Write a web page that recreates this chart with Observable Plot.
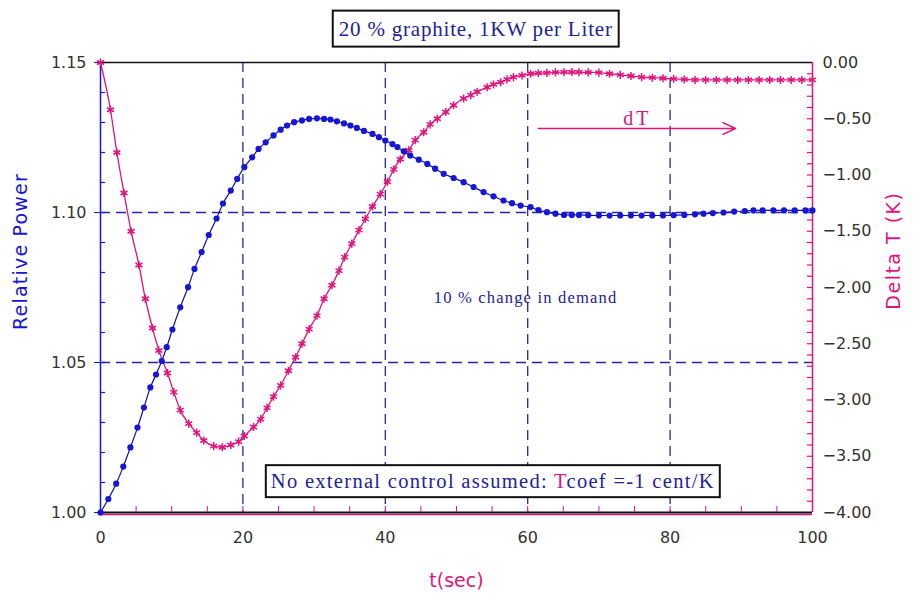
<!DOCTYPE html>
<html>
<head>
<meta charset="utf-8">
<script src="https://cdn.jsdelivr.net/npm/d3@7"></script>
<script src="https://cdn.jsdelivr.net/npm/@observablehq/plot@0.6"></script>
<style>
  html, body { margin: 0; padding: 0; background: #ffffff; }
  #chart { width: 913px; height: 600px; }
</style>
</head>
<body>
<div id="chart"></div>
<script>
// ---------------- data ----------------
const titleText = "20 % graphite, 1KW per Liter";
const noteText = "No external control assumed: Tcoef =-1 cent/K";
const demandText = "10 % change in demand";
const xLabel = "t(sec)";
const yLeftLabel = "Relative Power";
const yRightLabel = "Delta T (K)";

const xTicks = [0, 20, 40, 60, 80, 100];
const xMinorTicks = [5, 10, 15, 20, 25, 30, 35, 40, 45, 50, 55, 60, 65, 70, 75, 80, 85, 90, 95];
const xGrid = [20, 40, 60, 80];
const yLeftTicks = [1.00, 1.05, 1.10, 1.15];
const yLeftMinor = [1.01, 1.02, 1.03, 1.04, 1.05, 1.06, 1.07, 1.08, 1.09, 1.10, 1.11, 1.12, 1.13, 1.14];
const yGrid = [1.05, 1.10];
const yRightTicks = [0, -0.5, -1, -1.5, -2, -2.5, -3, -3.5, -4];
const yRightMinor = d3.range(1, 40).map(i => -i / 10);
const leftDomain = [1.00, 1.15];
const rightDomain = [-4, 0];

// Relative power (blue)
const tPower = [0, 1.1, 2.2, 3.2, 4.2, 5.2, 6.1, 7.0, 7.8, 8.6, 9.3, 10.1, 11.2, 12.3, 13.2, 14.2, 15.2, 16.3, 17.2, 18.3, 19.2, 20.2, 21.3, 22.2, 23.2, 24.3, 25.3, 26.2, 27.2, 28.3, 29.3, 30.4, 31.4, 32.3, 33.2, 34.2, 35.1, 36.0, 37.0, 38.2, 39.1, 40.0, 41.0, 41.7, 42.6, 43.5, 44.7, 45.9, 47.0, 48.2, 49.6, 51.0, 52.4, 53.8, 55.2, 56.6, 57.8, 59.0, 60.4, 61.5, 62.7, 63.9, 65.1, 66.2, 67.2, 68.5, 70.0, 71.5, 73.0, 74.5, 76.0, 77.5, 79.0, 80.5, 82.0, 83.5, 84.7, 86.0, 87.5, 89.0, 90.5, 91.7, 93.0, 94.5, 96.0, 97.5, 99.0, 100];
const power = [1.0000, 1.0045, 1.0096, 1.0153, 1.0217, 1.0283, 1.0350, 1.0417, 1.0460, 1.0505, 1.0551, 1.0610, 1.0684, 1.0751, 1.0812, 1.0868, 1.0925, 1.0980, 1.1030, 1.1073, 1.1112, 1.1151, 1.1184, 1.1212, 1.1234, 1.1257, 1.1276, 1.1290, 1.1301, 1.1307, 1.1312, 1.1314, 1.1312, 1.1310, 1.1304, 1.1297, 1.1290, 1.1282, 1.1272, 1.1262, 1.1251, 1.1240, 1.1228, 1.1218, 1.1204, 1.1190, 1.1176, 1.1162, 1.1146, 1.1129, 1.1115, 1.1101, 1.1085, 1.1068, 1.1054, 1.1040, 1.1031, 1.1023, 1.1018, 1.1008, 1.1001, 1.0996, 1.0992, 1.0992, 1.0992, 1.0991, 1.0990, 1.0990, 1.0990, 1.0990, 1.0990, 1.0990, 1.0990, 1.0991, 1.0992, 1.0994, 1.0996, 1.0998, 1.1000, 1.1003, 1.1005, 1.1007, 1.1007, 1.1007, 1.1007, 1.1007, 1.1007, 1.1007];

// Delta T (pink), right axis
const tDelta = [0, 1.4, 2.3, 3.3, 4.3, 5.4, 6.3, 7.3, 8.2, 9.4, 10.3, 11.2, 12.4, 13.5, 14.5, 15.9, 17.1, 18.3, 19.4, 20.2, 21.5, 22.5, 23.4, 24.3, 25.3, 26.4, 27.4, 28.3, 29.3, 30.4, 31.4, 32.5, 33.5, 34.3, 35.3, 36.3, 37.2, 38.2, 39.3, 40.3, 41.2, 42.1, 43.3, 44.2, 45.4, 46.3, 47.3, 48.5, 49.6, 51.0, 52.0, 52.9, 54.3, 55.2, 56.2, 57.1, 58.0, 59.2, 60.4, 61.5, 62.7, 63.9, 65.1, 66.2, 67.2, 68.5, 70.0, 71.5, 73.0, 74.5, 76.0, 77.5, 79.0, 80.5, 82.0, 83.5, 85.0, 86.5, 88.0, 89.5, 91.0, 92.5, 94.0, 95.5, 97.0, 98.5, 100];
const deltaT = [0.00, -0.42, -0.80, -1.16, -1.50, -1.80, -2.10, -2.36, -2.56, -2.76, -2.93, -3.09, -3.21, -3.29, -3.36, -3.41, -3.42, -3.40, -3.37, -3.32, -3.24, -3.17, -3.07, -2.97, -2.87, -2.74, -2.62, -2.50, -2.37, -2.25, -2.10, -1.98, -1.85, -1.73, -1.61, -1.49, -1.39, -1.28, -1.17, -1.06, -0.95, -0.86, -0.78, -0.69, -0.62, -0.55, -0.50, -0.44, -0.38, -0.32, -0.29, -0.26, -0.22, -0.195, -0.175, -0.15, -0.13, -0.115, -0.10, -0.095, -0.092, -0.088, -0.086, -0.085, -0.086, -0.088, -0.090, -0.10, -0.11, -0.12, -0.13, -0.135, -0.14, -0.145, -0.15, -0.155, -0.155, -0.155, -0.155, -0.155, -0.155, -0.155, -0.155, -0.155, -0.155, -0.155, -0.155];

// annotation anchors (data coordinates)
const titleAt = {t: 52.7, y: 1.1612};
const noteAt = {t: 55.1, y: 1.0103};
const demandAt = {t: 59.7, y: 1.0715};
const dTLabelAt = {t: 75.4, y: 1.1313};
const arrowSpec = [{t1: 61.5, t2: 89.2, y: 1.1280}];

// ---------------- styling ----------------
const BLUE = "#1616d6";
const NAVY = "#22229a";
const PINK = "#e0147c";
const GRID = "#26269c";
const TICKTXT = "#333333";

// map Delta T onto left scale
const k = (leftDomain[1] - leftDomain[0]) / (rightDomain[1] - rightDomain[0]);
const toLeft = v => leftDomain[1] + (v - rightDomain[1]) * k;
const fromLeft = y => (y - leftDomain[1]) / k + rightDomain[1];

const powerData = tPower.map((t, i) => ({t, v: power[i]}));
const deltaData = tDelta.map((t, i) => ({t, v: toLeft(deltaT[i])}));

const W = 913, H = 600;
const mL = 100, mR = 101, mT = 62, mB = 88;
const pxY = (leftDomain[1] - leftDomain[0]) / (H - mT - mB);
const pxX = 100 / (W - mL - mR);

const serif = "Liberation Serif, Times New Roman, serif";
const sans = "DejaVu Sans, sans-serif";

const chart = Plot.plot({
  width: W, height: H,
  marginLeft: mL, marginRight: mR, marginTop: mT, marginBottom: mB,
  style: {background: "#ffffff", fontFamily: "Liberation Sans, sans-serif", overflow: "visible"},
  x: {domain: [0, 100]},
  y: {domain: leftDomain},
  marks: [
    // dashed grid
    Plot.ruleX(xGrid, {stroke: GRID, strokeWidth: 1.3, strokeDasharray: "10,6"}),
    Plot.ruleY(yGrid, {stroke: GRID, strokeWidth: 1.3, strokeDasharray: "10,6"}),
    // frame lines
    Plot.ruleY([leftDomain[1]], {stroke: "#111", strokeWidth: 1.5}),
    Plot.ruleY([leftDomain[0]], {stroke: PINK, strokeWidth: 1.5, dy: 2}),
    Plot.ruleY([leftDomain[0]], {stroke: "#111", strokeWidth: 2}),
    Plot.ruleX([0], {stroke: BLUE, strokeWidth: 1.5}),
    Plot.ruleX([100], {stroke: PINK, strokeWidth: 1.5}),
    // minor ticks (inward)
    Plot.ruleX(xMinorTicks, {y1: leftDomain[0], y2: leftDomain[0] + 6 * pxY, stroke: PINK, strokeWidth: 1}),
    Plot.ruleY(yLeftMinor, {x1: 0, x2: 5 * pxX, stroke: BLUE, strokeWidth: 1.2}),
    Plot.ruleY(yRightMinor.map(toLeft), {x1: 100 - 5 * pxX, x2: 100, stroke: PINK, strokeWidth: 1.2}),
    // axes
    Plot.axisX({ticks: xTicks, tickSize: 0, tickPadding: 19, label: null, fontSize: 16, fill: TICKTXT, fontFamily: sans}),
    Plot.axisY({ticks: yLeftTicks, tickFormat: d3.format(".2f"), tickSize: 6, tickPadding: 8, stroke: BLUE, label: null, fontSize: 16, fill: TICKTXT, fontFamily: sans}),
    Plot.axisY({anchor: "right", ticks: yRightTicks.map(toLeft), tickFormat: d => d3.format(".2f")(Math.round(fromLeft(d) * 100) / 100), tickSize: 0, tickPadding: 10, label: null, fontSize: 16, fill: TICKTXT, fontFamily: sans}),
    // axis titles
    Plot.text([yLeftLabel], {x: 0, y: 1.087, dx: -80, rotate: -90, fill: BLUE, fontSize: 19, fontFamily: sans, className: "ls-leftlabel"}),
    Plot.text([yRightLabel], {x: 100, y: 1.0873, dx: 81, rotate: -90, fill: PINK, fontSize: 19, fontFamily: sans, className: "ls-rightlabel"}),
    Plot.text([xLabel], {x: 50, y: leftDomain[0], dy: 68, fill: PINK, fontSize: 19, fontFamily: sans}),
    // series
    Plot.line(deltaData, {x: "t", y: "v", stroke: PINK, strokeWidth: 1.3, curve: "monotone-x"}),
    Plot.dot(deltaData, {x: "t", y: "v", symbol: "asterisk", r: 3.8, stroke: PINK, strokeWidth: 1.5}),
    Plot.line(powerData, {x: "t", y: "v", stroke: "#1010a8", strokeWidth: 1.2, curve: "monotone-x"}),
    Plot.dot(powerData, {x: "t", y: "v", symbol: "circle", r: 3.1, fill: BLUE, stroke: null}),
    // annotations
    Plot.arrow(arrowSpec, {x1: "t1", x2: "t2", y1: "y", y2: "y", stroke: PINK, strokeWidth: 1.5, headLength: 14, headAngle: 50}),
    Plot.text(["dT"], {x: dTLabelAt.t, y: dTLabelAt.y, fill: PINK, fontSize: 20, fontFamily: serif, className: "ls-dt"}),
    Plot.text([demandText], {x: demandAt.t, y: demandAt.y, fill: NAVY, fontSize: 16.5, fontFamily: serif, className: "ls-demand"}),
    Plot.text([titleText], {x: titleAt.t, y: titleAt.y, fill: NAVY, fontSize: 21, fontFamily: serif, className: "boxed-title"}),
    Plot.text([noteText], {x: noteAt.t, y: noteAt.y, fill: NAVY, fontSize: 20.5, fontFamily: serif, className: "boxed-note"})
  ]
});
document.getElementById("chart").append(chart);

// letter spacing (widen text like the reference's stretched rendering)
const spacing = {"ls-leftlabel": 1.2, "ls-rightlabel": 1.5, "ls-dt": 3, "ls-demand": 1.2, "boxed-title": 0.8, "boxed-note": 1.3};
for (const [cls, ls] of Object.entries(spacing)) {
  chart.querySelectorAll("g." + cls + " text").forEach(t => t.setAttribute("letter-spacing", ls));
}

// boxes around annotation texts, and colouring the "T" of Tcoef
function boxText(cls, padX, padY) {
  const t = chart.querySelector("g." + cls + " text");
  if (!t) return;
  const bb = t.getBBox();
  const r = document.createElementNS("http://www.w3.org/2000/svg", "rect");
  r.setAttribute("x", bb.x - padX);
  r.setAttribute("y", bb.y - padY);
  r.setAttribute("width", bb.width + 2 * padX);
  r.setAttribute("height", bb.height + 2 * padY);
  r.setAttribute("fill", "#ffffff");
  r.setAttribute("stroke", "#111111");
  r.setAttribute("stroke-width", "2");
  if (t.getAttribute("transform")) r.setAttribute("transform", t.getAttribute("transform"));
  t.parentNode.insertBefore(r, t);
}
(function colourNote() {
  const t = chart.querySelector("g.boxed-note text");
  if (!t) return;
  const s = t.textContent;
  const i = s.indexOf("Tcoef");
  t.textContent = "";
  const parts = [[s.slice(0, i), NAVY], ["T", PINK], [s.slice(i + 1), NAVY]];
  for (const [str, col] of parts) {
    const sp = document.createElementNS("http://www.w3.org/2000/svg", "tspan");
    sp.textContent = str;
    sp.setAttribute("fill", col);
    t.appendChild(sp);
  }
})();
boxText("boxed-title", 6, 6);
boxText("boxed-note", 5, 5);
</script>
</body>
</html>
